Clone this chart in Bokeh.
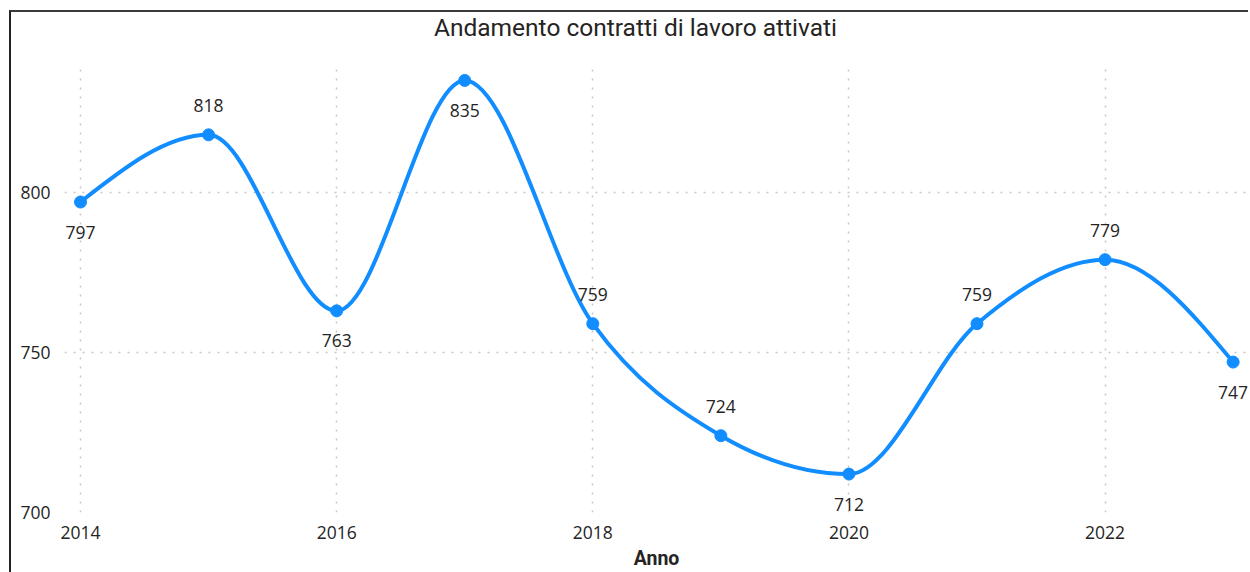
from bokeh.plotting import figure
from bokeh.layouts import column
from bokeh.models import Range1d, FixedTicker, ColumnDataSource, LabelSet, Div
from bokeh.core.properties import value
from bokeh.embed import file_html
from bokeh.resources import INLINE

# ---- data ----
years = [2014, 2015, 2016, 2017, 2018, 2019, 2020, 2021, 2022, 2023]
values = [797, 818, 763, 835, 759, 724, 712, 759, 779, 747]
label_side = ["below", "above", "below", "below", "above",
              "above", "below", "above", "above", "below"]
x_ticks = [2014, 2016, 2018, 2020, 2022]
y_ticks = [700, 750, 800]
chart_title = "Andamento contratti di lavoro attivati"
x_title = "Anno"

LINE = "#118DFF"
TEXT = "#252423"
GRID = "#C8C8C8"
W = 1237


def sgn(v):
    return -1.0 if v < 0 else 1.0


def monotone_slopes(x, y):
    n = len(x)
    m = [0.0] * n
    for i in range(1, n - 1):
        h0 = x[i] - x[i - 1]
        h1 = x[i + 1] - x[i]
        s0 = (y[i] - y[i - 1]) / h0
        s1 = (y[i + 1] - y[i]) / h1
        p = (s0 * h1 + s1 * h0) / (h0 + h1)
        m[i] = (sgn(s0) + sgn(s1)) * min(abs(s0), abs(s1), 0.5 * abs(p))
    h = x[1] - x[0]
    m[0] = (3 * (y[1] - y[0]) / h - m[1]) / 2
    h = x[-1] - x[-2]
    m[-1] = (3 * (y[-1] - y[-2]) / h - m[-2]) / 2
    return m


slopes = monotone_slopes(years, values)
seg = dict(x0=[], y0=[], x1=[], y1=[], cx0=[], cy0=[], cx1=[], cy1=[])
for i in range(len(years) - 1):
    h = years[i + 1] - years[i]
    seg["x0"].append(years[i])
    seg["y0"].append(values[i])
    seg["x1"].append(years[i + 1])
    seg["y1"].append(values[i + 1])
    seg["cx0"].append(years[i] + h / 3)
    seg["cy0"].append(values[i] + slopes[i] * h / 3)
    seg["cx1"].append(years[i + 1] - h / 3)
    seg["cy1"].append(values[i + 1] - slopes[i + 1] * h / 3)

title_div = Div(
    text=f'<span style="position:relative;left:6px">{chart_title}</span>',
    width=W, height=50, margin=0,
    styles={"text-align": "center", "font-family": "Roboto",
            "font-size": "24.5px", "line-height": "32px", "color": TEXT,
            "background-color": "white"})

p = figure(width=W, height=510, output_backend="svg", toolbar_location=None,
           x_range=Range1d(2013.875, 2023.12), y_range=Range1d(700, 840.6),
           min_border_left=53, min_border_right=0, min_border_top=0,
           min_border_bottom=60, margin=0)
p.outline_line_color = None
p.background_fill_color = "white"
p.border_fill_color = "white"

# axes
p.xaxis.ticker = FixedTicker(ticks=x_ticks)
p.yaxis.ticker = FixedTicker(ticks=y_ticks)
for ax in (p.xaxis, p.yaxis):
    ax.axis_line_color = None
    ax.major_tick_line_color = None
    ax.minor_tick_line_color = None
    ax.major_tick_out = 0
    ax.major_tick_in = 0
    ax.major_label_text_font = "Open Sans"
    ax.major_label_text_font_size = "17.5px"
    ax.major_label_text_color = TEXT
p.yaxis.major_label_standoff = 14
p.xaxis.major_label_standoff = 13
p.xaxis.axis_label = x_title
p.xaxis.axis_label_text_font = "Roboto"
p.xaxis.axis_label_text_font_size = "19.5px"
p.xaxis.axis_label_text_font_style = "bold"
p.xaxis.axis_label_text_color = TEXT
p.xaxis.axis_label_standoff = 5

p.xgrid.grid_line_color = GRID
p.ygrid.grid_line_color = GRID
p.xgrid.grid_line_dash = "2 7"
p.ygrid.grid_line_dash = "2 7"
p.xgrid.grid_line_width = 1.5
p.ygrid.grid_line_width = 1.5

# smooth line
p.bezier(source=ColumnDataSource(seg), x0="x0", y0="y0", x1="x1", y1="y1",
         cx0="cx0", cy0="cy0", cx1="cx1", cy1="cy1",
         line_color=LINE, line_width=4)

src = ColumnDataSource(dict(
    x=years, y=values, label=[str(v) for v in values],
    dy=[29 if s == "above" else -30 for s in label_side]))
p.scatter("x", "y", source=src, size=12, fill_color=LINE, line_color=LINE)
p.add_layout(LabelSet(x="x", y="y", text="label", y_offset="dy", source=src,
                      text_align="center", text_baseline="middle",
                      text_font=value("Open Sans"), text_font_size=value("17.5px"),
                      text_color=TEXT))

layout = column(title_div, p, spacing=0,
                styles={"margin-left": "9px", "margin-top": "10px",
                        "border-top": "2px solid #3a3a3a",
                        "border-left": "2px solid #222222"})

open("out.html", "w").write(file_html(layout, INLINE))
